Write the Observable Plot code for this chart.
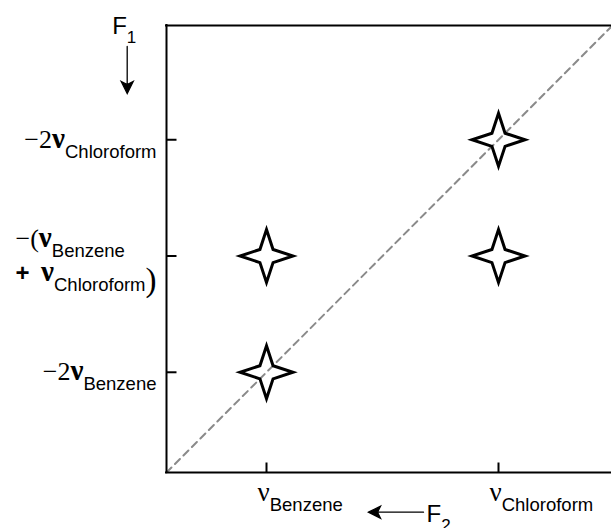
<!DOCTYPE html>
<html>
<head>
<meta charset="utf-8">
<script src="https://cdn.jsdelivr.net/npm/d3@7"></script>
<script src="https://cdn.jsdelivr.net/npm/@observablehq/plot@0.6"></script>
<style>
  html, body { margin: 0; padding: 0; background: #fff; overflow: hidden; }
</style>
</head>
<body>
<div id="chart"></div>
<script>
// Frequencies in arbitrary units (ν_Benzene = 1)
const f2Extent = [0, 4.45];        // single-quantum axis F2
const f1Extent = [0, 8.92];        // double-quantum axis F1 (sum of the pair)

// Peaks: F2 position and F1 (double-quantum) position
const peakF2 = [1, 1, 3.32, 3.32];
const peakF1 = [2, 4.32, 4.32, 6.64];

// Diagonal F1 = 2·F2
const diagF2 = [0, 4.45];
const diagF1 = [0, 8.9];

// Ticks and their labels ("_" starts a subscript, "|" breaks a line)
const xTicks = [1, 3.32];
const xTickLabels = ["ν_Benzene", "ν_Chloroform"];
const yTicks = [2, 4.32, 6.64];
const yTickLabels = ["−2ν_Benzene", "−(ν_Benzene|+ ν_Chloroform)", "−2ν_Chloroform"];

// Axis names
const f1Name = ["F_1"];
const f2Name = ["F_2"];

const SERIF = "'Liberation Serif', 'Times New Roman', serif";
const SANS = "'Liberation Sans', Arial, sans-serif";

// Four-pointed star outline
const star4 = {
  draw(context, size) {
    const R = Math.sqrt(size / Math.PI);
    const r = R * 0.35;
    for (let k = 0; k < 8; ++k) {
      const a = (k * Math.PI) / 4;
      const rad = k % 2 === 0 ? R : r;
      const px = rad * Math.sin(a), py = -rad * Math.cos(a);
      if (k === 0) context.moveTo(px, py); else context.lineTo(px, py);
    }
    context.closePath();
  }
};

// Shaft with a filled, notched head
const arrowShape = {
  draw(context, l) {
    const head = 12, half = 6, notch = 3;
    context.moveTo(0, 0);
    context.lineTo(0, -l + head - notch);
    context.moveTo(0, -l);
    context.lineTo(half, -l + head);
    context.lineTo(0, -l + head - notch);
    context.lineTo(-half, -l + head);
    context.closePath();
  }
};

// Inward tick: a short stroke from the axis into the frame
const tickShape = {
  draw(context, l) {
    context.moveTo(0, 0);
    context.lineTo(0, -l);
  }
};

const svg = Plot.plot({
  width: 611,
  height: 528,
  marginLeft: 166,
  marginRight: 0,
  marginTop: 25,
  marginBottom: 56,
  x: {domain: f2Extent, axis: null},
  y: {domain: f1Extent, axis: null},
  marks: [
    Plot.line(diagF2, {x: d => d, y: (d, i) => diagF1[i], stroke: "#8a8a8a", strokeWidth: 2, strokeDasharray: "7,5"}),
    Plot.ruleX([f2Extent[0]], {stroke: "black", strokeWidth: 2, strokeLinecap: "square"}),
    Plot.ruleY([f1Extent[0], f1Extent[1]], {stroke: "black", strokeWidth: 2, strokeLinecap: "square"}),
    // inward ticks along the bottom and left edges
    Plot.vector(xTicks, {x: d => d, y: () => f1Extent[0], length: 10, rotate: 0, anchor: "start", shape: tickShape, stroke: "black", strokeWidth: 2, strokeLinecap: "butt"}),
    Plot.vector(yTicks, {x: () => f2Extent[0], y: d => d, length: 10, rotate: 90, anchor: "start", shape: tickShape, stroke: "black", strokeWidth: 2, strokeLinecap: "butt"}),
    Plot.dot(peakF2, {x: d => d, y: (d, i) => peakF1[i], r: 26.5, symbol: star4, stroke: "black", strokeWidth: 3, fill: "none", strokeLinejoin: "miter"}),
    Plot.text(yTicks, {y: d => d, frameAnchor: "left", text: (d, i) => yTickLabels[i], dx: -10}),
    Plot.text(xTicks, {x: d => d, frameAnchor: "bottom", text: (d, i) => xTickLabels[i], dx: -9}),
    Plot.text(f1Name, {frameAnchor: "top-left", text: d => d, dx: -54.3}),
    Plot.text(f2Name, {frameAnchor: "bottom-left", text: d => d, dx: 260}),
    Plot.vector(f1Name, {frameAnchor: "top-left", dx: -39.3, dy: 21, length: 47, rotate: 180, anchor: "start", shape: arrowShape, stroke: "black", fill: "black", strokeWidth: 1.3, strokeLinejoin: "miter"}),
    Plot.vector(f2Name, {frameAnchor: "bottom-left", dx: 257, dy: 39.7, length: 55, rotate: -90, anchor: "start", shape: arrowShape, stroke: "black", fill: "black", strokeWidth: 1.3, strokeLinejoin: "miter"})
  ]
});

document.getElementById("chart").appendChild(svg);

// Split a label into styled runs: subscripts, ν, operators and brackets
function tokenize(line, mode) {
  const runs = [];
  for (const part of line.split(/(_[^\s)|]+)/)) {
    if (!part) continue;
    if (part.startsWith("_")) {
      runs.push({text: part.slice(1), family: SANS, size: mode === "f" ? 17 : 18.5, weight: "normal", shift: mode === "f" ? 9 : 10});
      continue;
    }
    for (const piece of part.split(/(ν|\+ ?|\))/)) {
      if (!piece) continue;
      if (mode === "f") runs.push({text: piece, family: SANS, size: 24, weight: "normal", shift: 0});
      else if (piece === "ν") runs.push({text: piece, family: SERIF, size: mode === "y" ? 29 : 27, weight: mode === "y" ? "bold" : "normal", shift: 0});
      else if (piece.startsWith("+")) runs.push({text: "+\u2009 ", family: SANS, size: 24, weight: "bold", shift: 0});
      else if (piece === ")") runs.push({text: piece, family: SERIF, size: 33, weight: "normal", shift: 10});
      else runs.push({text: piece, family: SERIF, size: 26, weight: "normal", shift: 0});
    }
  }
  return runs;
}

// Rebuild a text element as a multi-run, multi-line label
function richLabel(text, mode, {baseline, gap = 34, align = "start"}) {
  const NS = "http://www.w3.org/2000/svg";
  const raw = text.textContent;
  const ax = text.getAttribute("x"), ay = text.getAttribute("y");
  const bx = ax && !/em$/.test(ax) ? parseFloat(ax) || 0 : 0;
  const by = ay && !/em$/.test(ay) ? parseFloat(ay) || 0 : 0;
  text.removeAttribute("y");
  text.removeAttribute("dy");
  text.setAttribute("text-anchor", "start");
  text.style.whiteSpace = "pre";
  while (text.firstChild) text.removeChild(text.firstChild);
  const lines = raw.split("|");
  const first = baseline - ((lines.length - 1) * gap) / 2;
  const built = lines.map((line, li) => {
    const y0 = by + first + li * gap;
    return tokenize(line, mode).map((run, ri) => {
      const t = document.createElementNS(NS, "tspan");
      t.textContent = run.text;
      t.setAttribute("y", y0 + run.shift);
      if (ri === 0) t.setAttribute("x", bx);
      t.setAttribute("font-family", run.family);
      t.setAttribute("font-size", run.size);
      t.setAttribute("font-weight", run.weight);
      text.appendChild(t);
      return t;
    });
  });
  const widths = built.map(ts => ts.reduce((s, t) => s + t.getComputedTextLength(), 0));
  const maxW = Math.max(...widths);
  const left = align === "end" ? bx - maxW : bx;
  built.forEach(ts => ts[0].setAttribute("x", left));
}

svg.querySelectorAll("text").forEach(text => {
  const s = text.textContent;
  if (yTickLabels.includes(s)) richLabel(text, "y", {baseline: 8, gap: 34, align: "end"});
  else if (xTickLabels.includes(s)) richLabel(text, "x", {baseline: 28});
  else if (f1Name.includes(s)) richLabel(text, "f", {baseline: 8});
  else if (f2Name.includes(s)) richLabel(text, "f", {baseline: 49.7});
});
</script>
</body>
</html>
